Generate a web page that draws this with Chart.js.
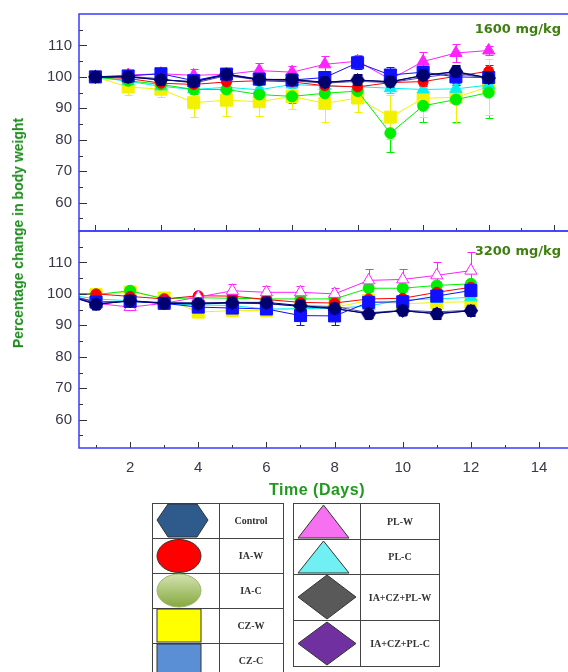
<!DOCTYPE html>
<html>

<head>
    <script src="https://cdn.jsdelivr.net/npm/chart.js@4.4.0/dist/chart.umd.min.js"></script>
    <style>
        body { margin: 0; background: #fff; width: 568px; height: 672px; position: relative; overflow: hidden; font-family: "Liberation Sans", Arial, sans-serif; }
        canvas { position: absolute; left: 0; }
        #chart1600 { top: 0; }
        #chart3200 { top: 230px; }
        .ytitle { position: absolute; left: 18px; top: 233px; transform: translate(-50%, -50%) rotate(-90deg); white-space: nowrap; color: #1e8c1e; font-weight: bold; font-size: 14px; }
        .xtitle { position: absolute; left: 317px; top: 490px; transform: translate(-50%, -50%); white-space: nowrap; color: #1f9a1f; font-weight: bold; font-size: 16px; letter-spacing: 0.5px; }
        .dose { position: absolute; right: 7px; font-family: "DejaVu Sans", sans-serif; font-weight: bold; font-size: 13px; color: #3f7f10; }
        svg { position: absolute; left: 0; top: 0; }
    </style>
</head>

<body>
    <canvas id="chart1600" width="568" height="232"></canvas>
    <canvas id="chart3200" width="568" height="272"></canvas>
    <div class="ytitle">Percentage change in body weight</div>
    <div class="xtitle">Time (Days)</div>
    <div class="dose" style="top:21px">1600 mg/kg</div>
    <div class="dose" style="top:243px">3200 mg/kg</div>

    <svg width="568" height="672">
        <defs>
            <linearGradient id="gr" x1="0" y1="0" x2="0" y2="1">
                <stop offset="0" stop-color="#d4e3b0" />
                <stop offset="1" stop-color="#86a83f" />
            </linearGradient>
        </defs>
        <g fill="none" stroke="#444" stroke-width="1">
            <rect x="152.5" y="503.5" width="67" height="35" /><rect x="219.5" y="503.5" width="64" height="35" />
            <rect x="152.5" y="538.5" width="67" height="35" /><rect x="219.5" y="538.5" width="64" height="35" />
            <rect x="152.5" y="573.5" width="67" height="35" /><rect x="219.5" y="573.5" width="64" height="35" />
            <rect x="152.5" y="608.5" width="67" height="35" /><rect x="219.5" y="608.5" width="64" height="35" />
            <rect x="152.5" y="643.5" width="67" height="35" /><rect x="219.5" y="643.5" width="64" height="35" />
            <rect x="293.5" y="503.5" width="67" height="36" /><rect x="360.5" y="503.5" width="79" height="36" />
            <rect x="293.5" y="539.5" width="67" height="35" /><rect x="360.5" y="539.5" width="79" height="35" />
            <rect x="293.5" y="574.5" width="67" height="46" /><rect x="360.5" y="574.5" width="79" height="46" />
            <rect x="293.5" y="620.5" width="67" height="46" /><rect x="360.5" y="620.5" width="79" height="46" />
        </g>
        <g stroke="#333" stroke-width="1">
            <polygon points="157,520 168,504 197,504 208,520 197,537 168,537" fill="#2f5a8c" />
            <ellipse cx="179" cy="556" rx="22" ry="16.5" fill="#ff0000" />
            <ellipse cx="179" cy="590.5" rx="22" ry="16.5" fill="url(#gr)" stroke="#9ab868" />
            <rect x="157" y="609" width="44" height="33" fill="#ffff00" />
            <rect x="157" y="644" width="44" height="34" fill="#5a8fd6" />
            <polygon points="298,538 349,538 323.5,505" fill="#f870f2" />
            <polygon points="298,573 349,573 323.5,541" fill="#70f0f2" />
            <polygon points="298,597 327,575 356,597 327,619" fill="#595959" />
            <polygon points="298,643.5 327,622 356,643.5 327,665" fill="#7030a0" />
        </g>
        <g font-family="Liberation Serif, serif" font-weight="bold" font-size="10" fill="#333" text-anchor="middle">
            <text x="251" y="524">Control</text>
            <text x="251" y="559">IA-W</text>
            <text x="251" y="594">IA-C</text>
            <text x="251" y="629">CZ-W</text>
            <text x="251" y="664">CZ-C</text>
            <text x="400" y="525">PL-W</text>
            <text x="400" y="560">PL-C</text>
            <text x="400" y="601">IA+CZ+PL-W</text>
            <text x="400" y="647">IA+CZ+PL-C</text>
        </g>
    </svg>

    <script>
        // ---- data ----
        const days1600 = [1, 2, 3, 4, 5, 6, 7, 8, 9, 10, 11, 12, 13];
        const days3200 = [0, 1, 2, 3, 4, 5, 6, 7, 8, 9, 10, 11, 12];
        const yTickValues = [60, 70, 80, 90, 100, 110];
        const xTickValues = [2, 4, 6, 8, 10, 12, 14];

        // 1600 mg/kg
        const control1600 = [100, 100, 99.0, 98.5, 100.8, 99.2, 99.2, 98.3, 99.0, 98.5, 100.5, 101.7, 99.7];
        const controlErr1600 = [0.8, 1, 1.5, 1.5, 1.5, 1.5, 1.5, 2, 2, 2.5, 3, 2, 1.5];
        const iaw1600 = [100, 99.5, 98.0, 97.6, 98.4, 98.8, 98.4, 97.2, 96.8, 98.2, 98.5, 100.2, 101.8];
        const iawErr1600 = [0.5, 1, 1, 1, 1, 1, 1, 1, 1.5, 1.5, 1.5, 2, 2];
        const iac1600 = [100, 98.8, 97.6, 96.0, 96.0, 94.4, 93.8, 94.8, 95.5, 82.1, 90.8, 92.8, 95.0];
        const iacErr1600 = [0.5, 1, 1, 1.5, 1.5, 2, 2, 2, 3, 6, 5, 7, 8];
        const czw1600 = [100, 96.8, 96.1, 91.8, 92.6, 92.1, 93.8, 91.6, 93.3, 87.2, 93.2, 93.5, 96.8];
        const czwErr1600 = [0.5, 2.5, 2.5, 4.5, 5, 4.5, 4, 6, 4.5, 7, 6, 8, 9];
        const czc1600 = [100, 100.3, 101.0, 98.8, 100.9, 99.3, 99.0, 99.8, 104.5, 100.6, 101.5, 100.0, 99.8];
        const czcErr1600 = [0.5, 1, 1.5, 1.5, 1.5, 1.5, 2, 2, 2, 2.5, 2.5, 2.5, 2];
        const plw1600 = [100, 100.6, 101.0, 100.5, 100.8, 102.0, 101.5, 104.0, 105.0, 99.2, 104.9, 107.6, 108.4];
        const plwErr1600 = [0.5, 1, 1.5, 2, 1.5, 2.5, 2, 2.5, 2, 1.5, 3, 3, 1.5];
        const plc1600 = [100, 98.6, 97.0, 96.0, 96.7, 95.9, 97.6, 97.1, 96.9, 96.4, 96.0, 96.2, 97.4];
        const plcErr1600 = [0.5, 1, 1, 1, 1, 1, 1, 1, 1, 1.5, 1.5, 1.5, 1.5];
        const mixw1600 = [100, 100.2, 99.4, 98.0, 100.4, 99.0, 98.8, 98.0, 98.6, 98.2, 99.8, 101.2, 99.4];
        const mixwErr1600 = [0.5, 1, 1, 1, 1, 1, 1, 1.5, 1.5, 1.5, 2, 2, 1.5];
        const mixc1600 = [100, 100, 99.1, 98.4, 100.7, 99.1, 99.1, 98.2, 99.0, 98.4, 100.4, 101.6, 99.6];
        const mixcErr1600 = [0.5, 1, 1, 1.5, 1.5, 1.5, 1.5, 1.5, 1.5, 2, 2.5, 2, 1.5];

        // 3200 mg/kg
        const control3200 = [100, 96.6, 97.9, 97.0, 97.0, 97.3, 97.3, 96.3, 95.4, 93.6, 94.7, 93.6, 94.7];
        const controlErr3200 = [0, 1.5, 1.5, 1.2, 1.5, 1.5, 1.5, 1.5, 1.5, 1.2, 1.2, 1.5, 1.5];
        const iaw3200 = [100, 100, 99.2, 98.4, 99.4, 99.3, 98.2, 97.3, 97.1, 98.4, 98.6, 100.5, 102.1];
        const iawErr3200 = [0, 1, 1, 1, 1, 1, 1, 1, 1, 1, 1, 1, 1];
        const iac3200 = [100, 99.8, 101.0, 98.4, 98.8, 98.6, 98.4, 98.4, 98.4, 101.8, 101.8, 102.7, 103.2];
        const iacErr3200 = [0, 1, 1, 1, 1, 1, 1, 1, 1, 1, 1, 1, 1];
        const czw3200 = [100, 99.8, 100.6, 98.7, 94.2, 94.7, 94.7, 95.4, 95.7, 97.9, 96.8, 97.3, 97.5];
        const czwErr3200 = [0, 1, 1, 1, 1.5, 1.5, 1, 1, 1, 1, 1, 1, 1];
        const czc3200 = [100, 97.4, 97.6, 97.0, 95.8, 95.5, 95.2, 93.1, 93.0, 97.3, 97.5, 99.3, 101.1];
        const czcErr3200 = [0, 1, 1, 1, 1.5, 1.5, 1.5, 3, 3, 1.5, 1.5, 1.5, 1.5];
        const plw3200 = [100, 97.0, 95.8, 97.0, 99.0, 101.0, 100.5, 100.5, 100.0, 104.3, 104.6, 105.9, 107.4];
        const plwErr3200 = [0, 1, 1, 1, 1, 2, 2, 2, 2, 3.5, 3.2, 4.4, 6];
        const plc3200 = [100, 98.4, 97.8, 96.8, 96.5, 96.3, 95.2, 95.3, 95.5, 96.1, 98.2, 98.4, 98.9];
        const plcErr3200 = [0, 1, 1, 1, 1, 1, 1, 1, 1, 1, 1, 1, 1];
        const mixw3200 = [100, 97.5, 97.6, 97.3, 97.2, 97.2, 96.8, 96.2, 96.0, 94.0, 94.8, 94.3, 94.8];
        const mixwErr3200 = [0, 1, 1, 1, 1, 1, 1, 1, 1, 1, 1, 1, 1];
        const mixc3200 = [100, 96.8, 97.7, 97.0, 96.8, 97.1, 97.0, 96.0, 95.3, 93.8, 94.6, 93.8, 94.6];
        const mixcErr3200 = [0, 1.5, 1.5, 1.2, 1.5, 1.5, 1.5, 1.5, 1.5, 1.2, 1.2, 1.5, 1.5];

        // hexagon marker for the control group
        function hexagon(color, r) {
            const c = document.createElement('canvas');
            c.width = c.height = 2 * r + 2;
            const g = c.getContext('2d');
            g.fillStyle = color;
            g.beginPath();
            for (let k = 0; k < 6; k++) {
                const a = Math.PI / 3 * k;
                g.lineTo(r + 1 + r * Math.cos(a), r + 1 + r * Math.sin(a));
            }
            g.closePath();
            g.fill();
            return c;
        }
        const hex = hexagon('#00006e', 7);

        function ds(days, label, values, errors, color, style, radius, fill) {
            return {
                label: label,
                data: values.map((v, i) => ({ x: days[i], y: v })),
                errors: errors,
                borderColor: color,
                backgroundColor: fill || color,
                pointBackgroundColor: fill || color,
                pointBorderColor: color,
                pointStyle: style,
                pointRadius: radius,
                borderWidth: 1,
                pointBorderWidth: 1
            };
        }

        // error bars drawn from the scales
        const errorBars = {
            id: 'errorBars',
            beforeDatasetsDraw(chart) {
                const { ctx, chartArea: a, scales: { x, y } } = chart;
                ctx.save();
                ctx.beginPath();
                ctx.rect(a.left, a.top, a.width, a.height);
                ctx.clip();
                ctx.lineWidth = 1;
                chart.data.datasets.forEach(d => {
                    ctx.strokeStyle = d.borderColor;
                    d.data.forEach((p, i) => {
                        const e = d.errors[i];
                        if (!e) return;
                        const px = Math.round(x.getPixelForValue(p.x)) + 0.5;
                        const y1 = Math.round(y.getPixelForValue(p.y + e)) + 0.5;
                        const y2 = Math.round(y.getPixelForValue(p.y - e)) + 0.5;
                        ctx.beginPath();
                        ctx.moveTo(px, y1); ctx.lineTo(px, y2);
                        ctx.moveTo(px - 4, y1); ctx.lineTo(px + 4, y1);
                        ctx.moveTo(px - 4, y2); ctx.lineTo(px + 4, y2);
                        ctx.stroke();
                    });
                });
                ctx.restore();
            }
        };

        // blue frame and inward tick marks
        const frame = {
            id: 'frame',
            afterDraw(chart, args, opts) {
                const { ctx, chartArea: a, scales: { x, y } } = chart;
                ctx.save();
                ctx.strokeStyle = '#333';
                ctx.lineWidth = 1;
                ctx.beginPath();
                [60, 70, 80, 90, 100, 110].forEach(v => {
                    const py = Math.round(y.getPixelForValue(v)) + 0.5;
                    ctx.moveTo(a.left, py); ctx.lineTo(a.left + 8, py);
                });
                [55, 65, 75, 85, 95, 105, 115].forEach(v => {
                    const py = Math.round(y.getPixelForValue(v)) + 0.5;
                    ctx.moveTo(a.left, py); ctx.lineTo(a.left + 4, py);
                });
                opts.xMajor.forEach(v => {
                    const px = Math.round(x.getPixelForValue(v)) + 0.5;
                    ctx.moveTo(px, a.bottom); ctx.lineTo(px, a.bottom - 6);
                });
                opts.xMinor.forEach(v => {
                    const px = Math.round(x.getPixelForValue(v)) + 0.5;
                    ctx.moveTo(px, a.bottom); ctx.lineTo(px, a.bottom - 3);
                });
                ctx.stroke();
                ctx.strokeStyle = '#3b3bff';
                ctx.lineWidth = 1.5;
                ctx.beginPath();
                ctx.moveTo(a.right, a.top);
                ctx.lineTo(a.left, a.top);
                ctx.lineTo(a.left, a.bottom);
                ctx.lineTo(a.right, a.bottom);
                ctx.stroke();
                ctx.restore();
            }
        };

        function panel(id, datasets, xMax, xMajor, xMinor, showX) {
            return new Chart(document.getElementById(id), {
                type: 'line',
                data: { datasets: datasets },
                options: {
                    responsive: false,
                    animation: false,
                    devicePixelRatio: 1,
                    layout: {
                        autoPadding: false,
                        padding: showX ? { top: 1, left: 0, right: 0, bottom: 0 } : { top: 14, left: 0, right: 0, bottom: 1 }
                    },
                    plugins: {
                        legend: { display: false },
                        tooltip: { enabled: false },
                        frame: { xMajor: xMajor, xMinor: xMinor }
                    },
                    scales: {
                        x: {
                            type: 'linear', min: 0.5, max: xMax, display: showX,
                            afterFit: s => {
                                s.height = showX ? 54 : 0;
                                s.paddingLeft = 0;
                                s.paddingRight = 0;
                            },
                            afterBuildTicks: s => { s.ticks = xTickValues.map(v => ({ value: v })); },
                            grid: { display: false, drawTicks: false },
                            border: { display: false },
                            ticks: { color: '#383848', font: { size: 15, family: 'Liberation Sans' }, padding: 11, maxRotation: 0, autoSkip: false }
                        },
                        y: {
                            min: 51, max: 120,
                            afterFit: s => {
                                s.width = 79;
                                s.paddingTop = 0;
                                s.paddingBottom = 0;
                            },
                            afterBuildTicks: s => { s.ticks = yTickValues.map(v => ({ value: v })); },
                            grid: { display: false, drawTicks: false },
                            border: { display: false },
                            ticks: { color: '#383848', font: { size: 15, family: 'Liberation Sans' }, padding: 7 }
                        }
                    }
                },
                plugins: [errorBars, frame]
            });
        }

        const d1 = days1600, d2 = days3200;
        panel('chart1600', [
            ds(d1, 'Control', control1600, controlErr1600, '#00006e', hex, 7),
            ds(d1, 'IA+CZ+PL-C', mixc1600, mixcErr1600, '#000080', 'rectRot', 6.5),
            ds(d1, 'IA+CZ+PL-W', mixw1600, mixwErr1600, '#4b4b9b', 'rectRot', 4),
            ds(d1, 'CZ-C', czc1600, czcErr1600, '#1010ff', 'rect', 8.5),
            ds(d1, 'PL-W', plw1600, plwErr1600, '#ff22ff', 'triangle', 7),
            ds(d1, 'IA-W', iaw1600, iawErr1600, '#ff0000', 'circle', 5),
            ds(d1, 'IA-C', iac1600, iacErr1600, '#00ee00', 'circle', 5.5),
            ds(d1, 'PL-C', plc1600, plcErr1600, '#00f0f0', 'triangle', 7),
            ds(d1, 'CZ-W', czw1600, czwErr1600, '#f2f200', 'rect', 8.5)
        ], 15.42, [1, 3, 5, 7, 9, 11, 13, 15], [2, 4, 6, 8, 10, 12, 14], false);

        panel('chart3200', [
            ds(d2, 'Control', control3200, controlErr3200, '#00006e', hex, 7),
            ds(d2, 'IA+CZ+PL-C', mixc3200, mixcErr3200, '#000080', 'rectRot', 6.5),
            ds(d2, 'IA+CZ+PL-W', mixw3200, mixwErr3200, '#4b4b9b', 'rectRot', 4),
            ds(d2, 'CZ-C', czc3200, czcErr3200, '#1010ff', 'rect', 8.5),
            ds(d2, 'PL-W', plw3200, plwErr3200, '#ff22ff', 'triangle', 7, '#ffffff'),
            ds(d2, 'IA-W', iaw3200, iawErr3200, '#ff0000', 'circle', 5),
            ds(d2, 'IA-C', iac3200, iacErr3200, '#00ee00', 'circle', 5.5),
            ds(d2, 'PL-C', plc3200, plcErr3200, '#00f0f0', 'triangle', 7),
            ds(d2, 'CZ-W', czw3200, czwErr3200, '#f2f200', 'rect', 8.5)
        ], 14.85, [2, 4, 6, 8, 10, 12, 14], [1, 3, 5, 7, 9, 11, 13], true);
    </script>
</body>

</html>
